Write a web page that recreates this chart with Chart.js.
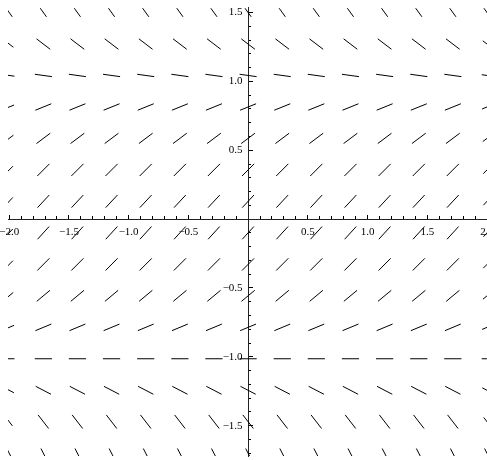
<!DOCTYPE html>
<html>
<head>
<meta charset="utf-8">
<script src="https://cdn.jsdelivr.net/npm/chart.js@4.4.0/dist/chart.umd.min.js"></script>
<style>
  html, body { margin: 0; padding: 0; background: #fff; }
</style>
</head>
<body>
<canvas id="field" width="487" height="460"></canvas>
<script>
// grid where the slope segments sit
const xs = [-2, -1.714, -1.429, -1.143, -0.857, -0.571, -0.286, 0, 0.286, 0.571, 0.857, 1.143, 1.429, 1.714, 2];
const ys = [1.5, 1.271, 1.043, 0.814, 0.586, 0.357, 0.129, -0.1, -0.329, -0.557, -0.786, -1.014, -1.243, -1.471, -1.7];
// dy/dx (same all along a row)
const slopes = [-1.2, -0.66, -0.12, 0.35, 0.65, 0.87, 0.93, 0.95, 0.87, 0.72, 0.36, 0, -0.45, -1.12, -1.7];

const xTicks = [-2, -1.5, -1, -0.5, 0, 0.5, 1, 1.5, 2];
const xLabels = ['\u22122.0', '\u22121.5', '\u22121.0', '\u22120.5', '', '0.5', '1.0', '1.5', '2.0'];
const yTicks = [-1.5, -1, -0.5, 0, 0.5, 1, 1.5];
const yLabels = ['\u22121.5', '\u22121.0', '\u22120.5', '', '0.5', '1.0', '1.5'];

const points = [];
ys.forEach((y, r) => {
    xs.forEach(x => points.push({ x: x, y: y, s: slopes[r] }));
});

function minorTicks(from, to) {
    const out = [];
    for (let i = Math.round(from * 10); i <= Math.round(to * 10); i++) {
        out.push({ value: i / 10 });
    }
    return out;
}

// keep label overhang from shrinking the plot
function noPad(scale) {
    scale.paddingLeft = 0;
    scale.paddingRight = 0;
    scale.paddingTop = 0;
    scale.paddingBottom = 0;
}

function isEdge(i) {
    const r = Math.floor(i / xs.length);
    const c = i % xs.length;
    return r === 0 || r === ys.length - 1 || c === 0 || c === xs.length - 1;
}

function segAngle(ctx) {
    const sx = ctx.chart.scales.x;
    const sy = ctx.chart.scales.y;
    const kx = sx.getPixelForValue(1) - sx.getPixelForValue(0);
    const ky = sy.getPixelForValue(0) - sy.getPixelForValue(1);
    const s = ctx.raw ? ctx.raw.s : 0;
    return -Math.atan(s * ky / kx) * 180 / Math.PI;
}

const font = { family: 'Liberation Serif', size: 11 };
const X_MIN = -2.01, X_MAX = 2.0, Y_MIN = -1.72, Y_MAX = 1.54;

const ctx = document.getElementById('field').getContext('2d');
new Chart(ctx, {
    type: 'scatter',
    data: {
        datasets: [{
            data: points,
            xAxisID: 'x',
            yAxisID: 'y',
            pointStyle: 'line',
            pointRadius: c => isEdge(c.dataIndex) ? 5.3 : 8.6,
            pointRotation: segAngle,
            pointBorderColor: '#000',
            pointBorderWidth: 1,
            pointBackgroundColor: '#000',
            clip: 0
        }]
    },
    options: {
        responsive: false,
        animation: false,
        events: [],
        layout: { autoPadding: false, padding: { left: 8, right: 0, top: 7, bottom: 4 } },
        plugins: {
            legend: { display: false },
            tooltip: { enabled: false }
        },
        scales: {
            x: {
                type: 'linear',
                min: X_MIN,
                max: X_MAX,
                bounds: 'data',
                position: { y: 0 },
                afterBuildTicks: s => { s.ticks = xTicks.map(v => ({ value: v })); },
                afterFit: noPad,
                grid: { drawOnChartArea: false, tickLength: -5, tickColor: '#000', tickWidth: 1 },
                border: { display: true, color: '#222', width: 1 },
                ticks: {
                    autoSkip: false,
                    maxRotation: 0,
                    padding: 11,
                    color: '#000',
                    font: font,
                    callback: (v, i) => xLabels[i]
                }
            },
            xMinor: {
                type: 'linear',
                axis: 'x',
                min: X_MIN,
                max: X_MAX,
                bounds: 'data',
                position: { y: 0 },
                afterBuildTicks: s => { s.ticks = minorTicks(-2, 2); },
                afterFit: noPad,
                grid: { drawOnChartArea: false, tickLength: -3, tickColor: '#000', tickWidth: 1 },
                border: { display: false },
                ticks: { autoSkip: false, maxRotation: 0, callback: () => '' }
            },
            y: {
                type: 'linear',
                min: Y_MIN,
                max: Y_MAX,
                bounds: 'data',
                position: { x: 0 },
                afterBuildTicks: s => { s.ticks = yTicks.map(v => ({ value: v })); },
                afterFit: noPad,
                grid: { drawOnChartArea: false, tickLength: -5, tickColor: '#000', tickWidth: 1 },
                border: { display: true, color: '#222', width: 1 },
                ticks: {
                    autoSkip: false,
                    padding: 0,
                    color: '#000',
                    font: font,
                    callback: (v, i) => yLabels[i] ? yLabels[i] + '\u2002' : ''
                }
            },
            yMinor: {
                type: 'linear',
                axis: 'y',
                min: Y_MIN,
                max: Y_MAX,
                bounds: 'data',
                position: { x: 0 },
                afterBuildTicks: s => { s.ticks = minorTicks(-1.7, 1.5); },
                afterFit: noPad,
                grid: { drawOnChartArea: false, tickLength: -3, tickColor: '#000', tickWidth: 1 },
                border: { display: false },
                ticks: { autoSkip: false, callback: () => '' }
            }
        }
    }
});
</script>
</body>
</html>
